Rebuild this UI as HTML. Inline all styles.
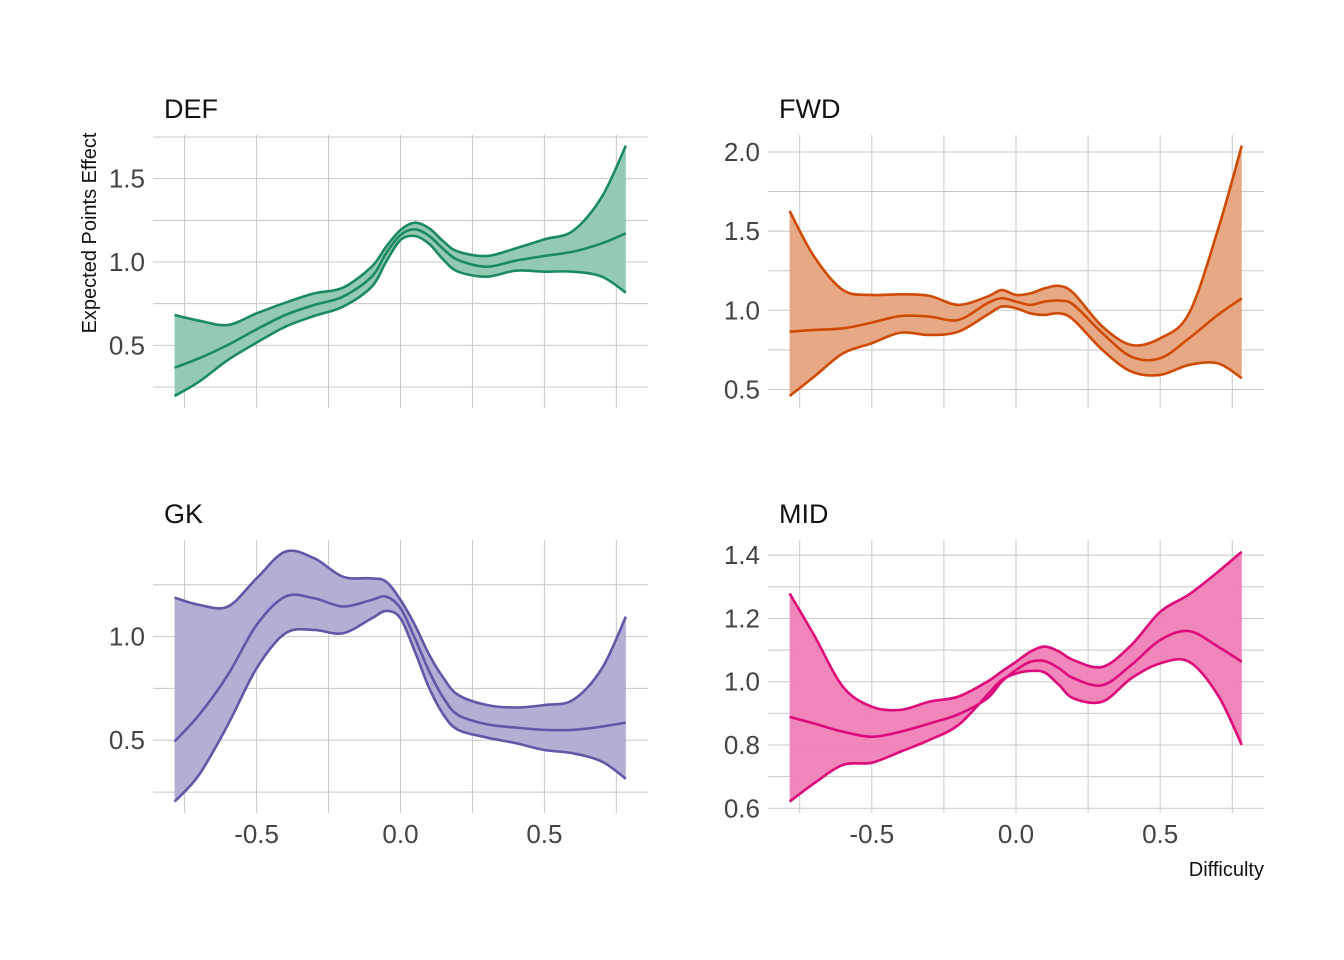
<!DOCTYPE html>
<html><head><meta charset="utf-8"><style>
body{margin:0;background:#fff}
svg{display:block}
text{font-family:"Liberation Sans Narrow","Liberation Sans",sans-serif}
</style></head><body>
<svg id="chart" width="1344" height="960" viewBox="0 0 1344 960"></svg>
<script>
const xs = [-0.785,-0.7,-0.6,-0.5,-0.4,-0.3,-0.2,-0.1,-0.05,0,0.05,0.1,0.15,0.2,0.3,0.4,0.5,0.6,0.7,0.783];
const defUpper=[0.682,0.648,0.622,0.692,0.756,0.812,0.846,0.972,1.092,1.192,1.236,1.202,1.122,1.062,1.036,1.082,1.136,1.188,1.392,1.698];
const defMean =[0.366,0.422,0.502,0.596,0.682,0.742,0.792,0.912,1.052,1.162,1.196,1.156,1.076,1.012,0.972,1.008,1.036,1.062,1.112,1.172];
const defLower=[0.196,0.282,0.412,0.516,0.612,0.676,0.732,0.852,1.002,1.132,1.156,1.108,1.012,0.942,0.912,0.948,0.942,0.942,0.912,0.816];
const fwdUpper=[1.627,1.339,1.128,1.097,1.101,1.091,1.034,1.086,1.128,1.097,1.107,1.139,1.154,1.107,0.897,0.781,0.823,0.981,1.507,2.04];
const fwdMean =[0.865,0.876,0.886,0.922,0.964,0.96,0.939,1.044,1.076,1.055,1.034,1.055,1.061,1.034,0.855,0.707,0.697,0.823,0.971,1.076];
const fwdLower=[0.459,0.581,0.728,0.792,0.859,0.844,0.865,0.971,1.023,1.013,0.981,0.971,0.981,0.939,0.749,0.613,0.592,0.655,0.665,0.571];
const gkUpper=[1.188,1.153,1.145,1.281,1.41,1.378,1.289,1.281,1.265,1.177,1.056,0.912,0.799,0.719,0.67,0.658,0.67,0.695,0.847,1.096];
const gkMean =[0.494,0.622,0.815,1.056,1.193,1.185,1.145,1.177,1.193,1.137,0.992,0.831,0.703,0.622,0.577,0.561,0.55,0.55,0.566,0.585];
const gkLower=[0.204,0.333,0.574,0.847,1.016,1.032,1.016,1.088,1.124,1.088,0.928,0.751,0.622,0.55,0.513,0.486,0.453,0.437,0.397,0.314];
const midUpper=[1.279,1.147,0.984,0.921,0.911,0.937,0.953,1.0,1.032,1.063,1.095,1.111,1.095,1.068,1.047,1.116,1.221,1.276,1.347,1.411];
const midMean =[0.889,0.868,0.842,0.826,0.842,0.868,0.897,0.947,1.0,1.037,1.063,1.065,1.042,1.011,0.989,1.053,1.132,1.16,1.111,1.063];
const midLower=[0.621,0.679,0.737,0.744,0.779,0.816,0.863,0.958,1.005,1.026,1.034,1.029,0.989,0.947,0.937,1.011,1.058,1.063,0.958,0.8];
const xTicks=[-0.5,0,0.5];
const xTickLabels=["-0.5","0.0","0.5"];
const defYTicks=[0.5,1.0,1.5], fwdYTicks=[0.5,1.0,1.5,2.0], gkYTicks=[0.5,1.0], midYTicks=[0.6,0.8,1.0,1.2,1.4];

const svg=document.getElementById('chart');
const NS='http://www.w3.org/2000/svg';
function mk(tag,attrs,parent){const e=document.createElementNS(NS,tag);for(const k in attrs)e.setAttribute(k,attrs[k]);(parent||svg).appendChild(e);return e;}
function smooth(pts){let d='M'+pts[0][0]+','+pts[0][1];for(let i=0;i<pts.length-1;i++){const p0=pts[Math.max(i-1,0)],p1=pts[i],p2=pts[i+1],p3=pts[Math.min(i+2,pts.length-1)];
d+=' C'+(p1[0]+(p2[0]-p0[0])/6)+','+(p1[1]+(p2[1]-p0[1])/6)+' '+(p2[0]-(p3[0]-p1[0])/6)+','+(p2[1]-(p3[1]-p1[1])/6)+' '+p2[0]+','+p2[1];}return d;}
function ntext(x,y,anchor,size,fill,str,parent){
 const t=mk('text',{x:x,y:y,'text-anchor':anchor,'font-size':size,fill:fill},parent);
 t.textContent=str;return t;}

const panels=[
 {name:'def',title:'DEF',x0:153,x1:648,y0:135,y1:408,yd:[0.124,1.762],grid:[0.25,0.5,0.75,1,1.25,1.5,1.75],yt:defYTicks,col:'#1b8a62',fill:'#8fc7ae',u:defUpper,m:defMean,l:defLower,xlab:false},
 {name:'fwd',title:'FWD',x0:768,x1:1264,y0:135,y1:408,yd:[0.383,2.107],grid:[0.5,0.75,1,1.25,1.5,1.75,2],yt:fwdYTicks,col:'#cf4a02',fill:'#e6a37f',u:fwdUpper,m:fwdMean,l:fwdLower,xlab:false},
 {name:'gk',title:'GK',x0:153,x1:648,y0:540,y1:813,yd:[0.149,1.466],grid:[0.25,0.5,0.75,1,1.25],yt:gkYTicks,col:'#5f58a6',fill:'#aeaad2',u:gkUpper,m:gkMean,l:gkLower,xlab:true},
 {name:'mid',title:'MID',x0:768,x1:1264,y0:540,y1:813,yd:[0.585,1.448],grid:[0.6,0.7,0.8,0.9,1,1.1,1.2,1.3,1.4],yt:midYTicks,col:'#dc0a7a',fill:'#f080b6',u:midUpper,m:midMean,l:midLower,xlab:true}
];
const xd=[-0.86,0.86];
panels.forEach(p=>{
 const g=mk('g',{});
 
 
 const sx=v=>p.x0+(v-xd[0])/(xd[1]-xd[0])*(p.x1-p.x0);
 const sy=v=>p.y1-(v-p.yd[0])/(p.yd[1]-p.yd[0])*(p.y1-p.y0);
 [-0.75,-0.5,-0.25,0,0.25,0.5,0.75].forEach(v=>{const l=mk('line',{x1:sx(v),x2:sx(v),y1:p.y0,y2:p.y1,stroke:'#c8c8c8','stroke-width':1},g);
  });
 p.grid.forEach(v=>{const l=mk('line',{x1:p.x0,x2:p.x1,y1:sy(v),y2:sy(v),stroke:'#c8c8c8','stroke-width':1},g);
  });
 const up=xs.map((x,i)=>[sx(x),sy(p.u[i])]),mn=xs.map((x,i)=>[sx(x),sy(p.m[i])]),lo=xs.map((x,i)=>[sx(x),sy(p.l[i])]);
 const lr=lo.slice().reverse();
 const band=mk('path',{d:smooth(up)+' L'+lr[0][0]+','+lr[0][1]+smooth(lr).replace(/^M[^C]*/,' ')+' Z',fill:p.fill,'fill-opacity':0.95,stroke:'none'},g);
 
 [['upper',up],['mean',mn],['lower',lo]].forEach(([n,pts])=>{const l=mk('path',{d:smooth(pts),fill:'none',stroke:p.col,'stroke-width':2.6},g);
  });
 p.yt.forEach(v=>{const t=ntext(p.x0-8,sy(v)+9,'end',26,'#444',v.toFixed(1),g);
  });
 if(p.xlab) xTicks.forEach((v,i)=>{const t=ntext(sx(v),843,'middle',26,'#444',xTickLabels[i],g);
  });
 const tt=ntext(p.x0+11,p.y0-17,'start',27,'#111',p.title,g);
 
});
const yt=mk('text',{x:0,y:0,transform:'translate(96,233) rotate(-90)','text-anchor':'middle','font-size':20,fill:'#111'});yt.textContent='Expected Points Effect';

const xt=mk('text',{x:1264,y:876,'text-anchor':'end','font-size':20,fill:'#111'});xt.textContent='Difficulty';

</script>
</body></html>
